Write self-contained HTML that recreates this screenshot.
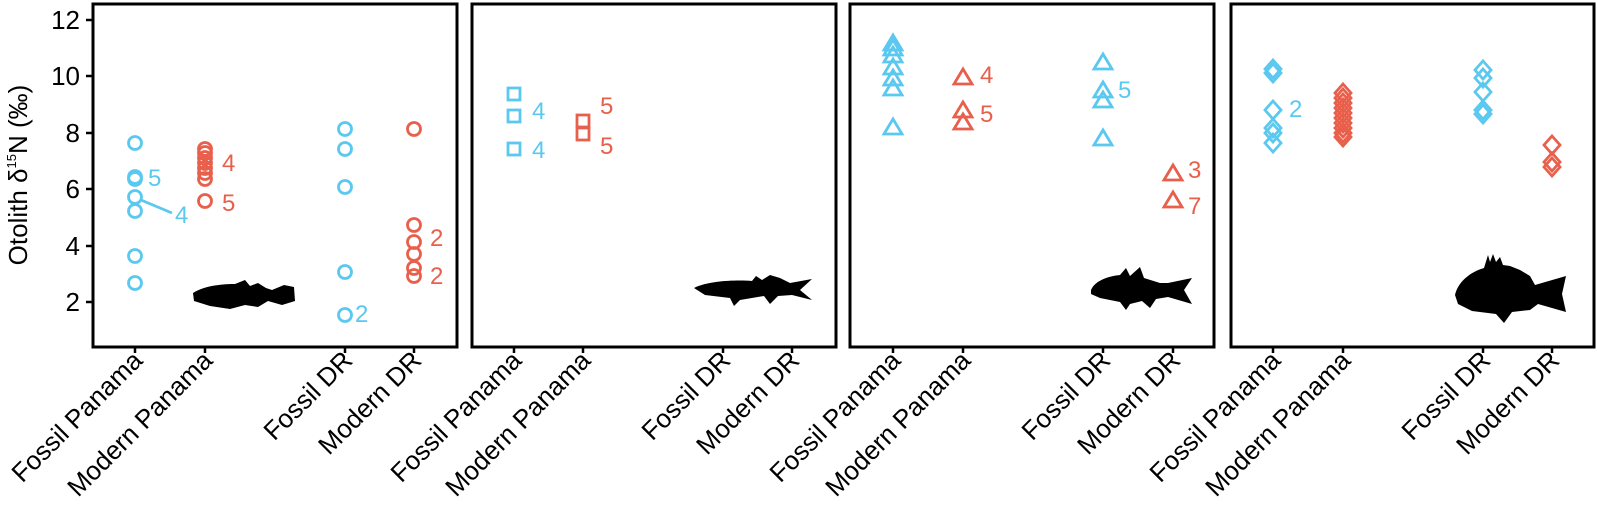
<!DOCTYPE html>
<html><head><meta charset="utf-8"><style>
html,body{margin:0;padding:0;background:#fff}
svg{display:block}
text{font-family:"Liberation Sans",Arial,sans-serif}
</style></head><body>
<svg width="1597" height="513" viewBox="0 0 1597 513" xmlns="http://www.w3.org/2000/svg">
<g fill="none" stroke="#000" stroke-width="3">
<rect x="93" y="4" width="364" height="343"/>
<rect x="472" y="4" width="364" height="343"/>
<rect x="850" y="4" width="364" height="343"/>
<rect x="1231" y="4" width="363" height="343"/>
</g>
<g stroke="#000" stroke-width="2.5">
<line x1="86" y1="20" x2="93" y2="20"/><line x1="86" y1="76" x2="93" y2="76"/><line x1="86" y1="133" x2="93" y2="133"/>
<line x1="86" y1="189" x2="93" y2="189"/><line x1="86" y1="246" x2="93" y2="246"/><line x1="86" y1="302" x2="93" y2="302"/>
<line x1="135" y1="347" x2="135" y2="353"/><line x1="205" y1="347" x2="205" y2="353"/><line x1="345" y1="347" x2="345" y2="353"/><line x1="414" y1="347" x2="414" y2="353"/>
<line x1="514" y1="347" x2="514" y2="353"/><line x1="583" y1="347" x2="583" y2="353"/><line x1="723" y1="347" x2="723" y2="353"/><line x1="792" y1="347" x2="792" y2="353"/>
<line x1="893" y1="347" x2="893" y2="353"/><line x1="963" y1="347" x2="963" y2="353"/><line x1="1103" y1="347" x2="1103" y2="353"/><line x1="1173" y1="347" x2="1173" y2="353"/>
<line x1="1273" y1="347" x2="1273" y2="353"/><line x1="1343" y1="347" x2="1343" y2="353"/><line x1="1483" y1="347" x2="1483" y2="353"/><line x1="1552" y1="347" x2="1552" y2="353"/>
</g>
<g font-size="26" text-anchor="end" fill="#000">
<text x="80" y="29">12</text><text x="80" y="85">10</text><text x="80" y="142">8</text>
<text x="80" y="198">6</text><text x="80" y="255">4</text><text x="80" y="311">2</text>
</g>
<text transform="translate(27,175) rotate(-90)" font-size="26" text-anchor="middle">Otolith  δ<tspan font-size="13" dy="-11">15</tspan><tspan dy="11">N (‰)</tspan></text>
<g font-size="26" text-anchor="end">
<g transform="translate(144,362) rotate(-45)"><text>Fossil Panama</text></g>
<g transform="translate(214,362) rotate(-45)"><text>Modern Panama</text></g>
<g transform="translate(354,362) rotate(-45)"><text>Fossil DR</text></g>
<g transform="translate(423,362) rotate(-45)"><text>Modern DR</text></g>
<g transform="translate(523,362) rotate(-45)"><text>Fossil Panama</text></g>
<g transform="translate(592,362) rotate(-45)"><text>Modern Panama</text></g>
<g transform="translate(732,362) rotate(-45)"><text>Fossil DR</text></g>
<g transform="translate(801,362) rotate(-45)"><text>Modern DR</text></g>
<g transform="translate(902,362) rotate(-45)"><text>Fossil Panama</text></g>
<g transform="translate(972,362) rotate(-45)"><text>Modern Panama</text></g>
<g transform="translate(1112,362) rotate(-45)"><text>Fossil DR</text></g>
<g transform="translate(1182,362) rotate(-45)"><text>Modern DR</text></g>
<g transform="translate(1282,362) rotate(-45)"><text>Fossil Panama</text></g>
<g transform="translate(1352,362) rotate(-45)"><text>Modern Panama</text></g>
<g transform="translate(1492,362) rotate(-45)"><text>Fossil DR</text></g>
<g transform="translate(1561,362) rotate(-45)"><text>Modern DR</text></g>
</g>
<!-- Panel 1 circles -->
<g fill="none" stroke="#5bc8f0" stroke-width="2.8">
<circle cx="135" cy="143" r="6.5"/><circle cx="135" cy="177" r="6.5"/><circle cx="135" cy="179" r="6.5"/><circle cx="135" cy="197" r="6.5"/><circle cx="135" cy="211" r="6.5"/><circle cx="135" cy="256" r="6.5"/><circle cx="135" cy="283" r="6.5"/>
<circle cx="345" cy="129" r="6.5"/><circle cx="345" cy="149" r="6.5"/><circle cx="345" cy="187" r="6.5"/><circle cx="345" cy="272" r="6.5"/><circle cx="345" cy="315" r="6.5"/>
<line x1="141" y1="200" x2="172" y2="213"/>
</g>
<g fill="none" stroke="#e8604c" stroke-width="2.8">
<circle cx="205" cy="149" r="6.5"/><circle cx="205" cy="153" r="6.5"/><circle cx="205" cy="158" r="6.5"/><circle cx="205" cy="163" r="6.5"/><circle cx="205" cy="168" r="6.5"/><circle cx="205" cy="173" r="6.5"/><circle cx="205" cy="179" r="6.5"/><circle cx="205" cy="201" r="6.5"/>
<circle cx="414" cy="129" r="6.5"/><circle cx="414" cy="225" r="6.5"/><circle cx="414" cy="242" r="6.5"/><circle cx="414" cy="254" r="6.5"/><circle cx="414" cy="268" r="6.5"/><circle cx="414" cy="276" r="6.5"/>
</g>
<g font-size="24" fill="#5bc8f0">
<text x="148" y="186">5</text><text x="175" y="223">4</text><text x="355" y="322">2</text>
<text x="532" y="119">4</text><text x="532" y="158">4</text>
<text x="1118" y="98">5</text>
<text x="1289" y="117">2</text>
</g>
<g font-size="24" fill="#e8604c">
<text x="222" y="171">4</text><text x="222" y="211">5</text>
<text x="430" y="246">2</text><text x="430" y="284">2</text>
<text x="600" y="114">5</text><text x="600" y="154">5</text>
<text x="980" y="83">4</text><text x="980" y="122">5</text>
<text x="1188" y="178">3</text><text x="1188" y="214">7</text>
</g>
<!-- Panel 2 squares -->
<g fill="none" stroke="#5bc8f0" stroke-width="2.8">
<rect x="508" y="88" width="12" height="12"/><rect x="508" y="110" width="12" height="12"/><rect x="508" y="143" width="12" height="12"/>
</g>
<g fill="none" stroke="#e8604c" stroke-width="2.8">
<rect x="577" y="115" width="12" height="12"/><rect x="577" y="128" width="12" height="12"/>
</g>
<!-- Panel 3 triangles -->
<g fill="none" stroke="#5bc8f0" stroke-width="2.8">
<path d="M893 35 l9 15 h-18z"/><path d="M893 40 l9 15 h-18z"/><path d="M893 47 l9 15 h-18z"/><path d="M893 59 l9 15 h-18z"/><path d="M893 70 l9 15 h-18z"/><path d="M893 80 l9 15 h-18z"/><path d="M893 119 l9 15 h-18z"/>
<path d="M1103 54 l9 15 h-18z"/><path d="M1103 82 l9 15 h-18z"/><path d="M1103 92 l9 15 h-18z"/><path d="M1103 130 l9 15 h-18z"/>
</g>
<g fill="none" stroke="#e8604c" stroke-width="2.8">
<path d="M963 69 l9 15 h-18z"/><path d="M963 102 l9 15 h-18z"/><path d="M963 114 l9 15 h-18z"/>
<path d="M1173 165 l9 15 h-18z"/><path d="M1173 192 l9 15 h-18z"/>
</g>
<!-- Panel 4 diamonds -->
<g fill="none" stroke="#5bc8f0" stroke-width="2.8">
<path d="M1273 60 l8 9 l-8 9 l-8 -9z"/><path d="M1273 64 l8 9 l-8 9 l-8 -9z"/><path d="M1273 101 l8 9 l-8 9 l-8 -9z"/><path d="M1273 119 l8 9 l-8 9 l-8 -9z"/><path d="M1273 124 l8 9 l-8 9 l-8 -9z"/><path d="M1273 134 l8 9 l-8 9 l-8 -9z"/>
<path d="M1483 61 l8 9 l-8 9 l-8 -9z"/><path d="M1483 69 l8 9 l-8 9 l-8 -9z"/><path d="M1483 83 l8 9 l-8 9 l-8 -9z"/><path d="M1483 101 l8 9 l-8 9 l-8 -9z"/><path d="M1483 105 l8 9 l-8 9 l-8 -9z"/>
</g>
<g fill="none" stroke="#e8604c" stroke-width="2.8">
<path d="M1343 84 l8 9 l-8 9 l-8 -9z"/><path d="M1343 89 l8 9 l-8 9 l-8 -9z"/><path d="M1343 94 l8 9 l-8 9 l-8 -9z"/><path d="M1343 99 l8 9 l-8 9 l-8 -9z"/><path d="M1343 104 l8 9 l-8 9 l-8 -9z"/><path d="M1343 109 l8 9 l-8 9 l-8 -9z"/><path d="M1343 114 l8 9 l-8 9 l-8 -9z"/><path d="M1343 119 l8 9 l-8 9 l-8 -9z"/><path d="M1343 124 l8 9 l-8 9 l-8 -9z"/><path d="M1343 128 l8 9 l-8 9 l-8 -9z"/>
<path d="M1552 136 l8 9 l-8 9 l-8 -9z"/><path d="M1552 153 l8 9 l-8 9 l-8 -9z"/><path d="M1552 158 l8 9 l-8 9 l-8 -9z"/>
</g>
<!-- Fish silhouettes -->
<g fill="#000">
<path d="M193 293 C205 285 225 284 235 284 L245 280 L250 286 L258 283 L266 288 L272 290 L284 285 L294 287 L295 301 L282 305 L268 301 L258 307 L245 305 L230 309 L210 306 L194 301 Z"/>
<path d="M694 288 C710 280 740 280 752 281 L756 276 L762 280 L770 275 L780 278 L790 283 L812 279 L800 290 L812 300 L792 295 L778 296 L770 304 L764 296 L740 300 L734 306 L730 298 L705 295 Z"/>
<path d="M1091 290 C1095 280 1110 276 1120 275 L1126 268 L1130 276 L1140 267 L1144 278 L1160 283 L1168 283 L1192 278 L1184 290 L1192 304 L1168 297 L1156 299 L1150 308 L1142 301 L1130 304 L1126 310 L1120 302 L1100 298 L1091 294 Z"/>
<path d="M1455 295 C1458 282 1470 272 1484 268 L1488 255 L1490 262 L1493 254 L1496 262 L1500 257 L1503 265 L1510 266 L1520 270 L1530 276 L1535 285 L1566 276 L1562 294 L1566 312 L1538 304 L1530 310 L1512 312 L1504 323 L1496 314 L1472 311 L1458 304 Z"/>
</g>
</svg>
</body></html>
